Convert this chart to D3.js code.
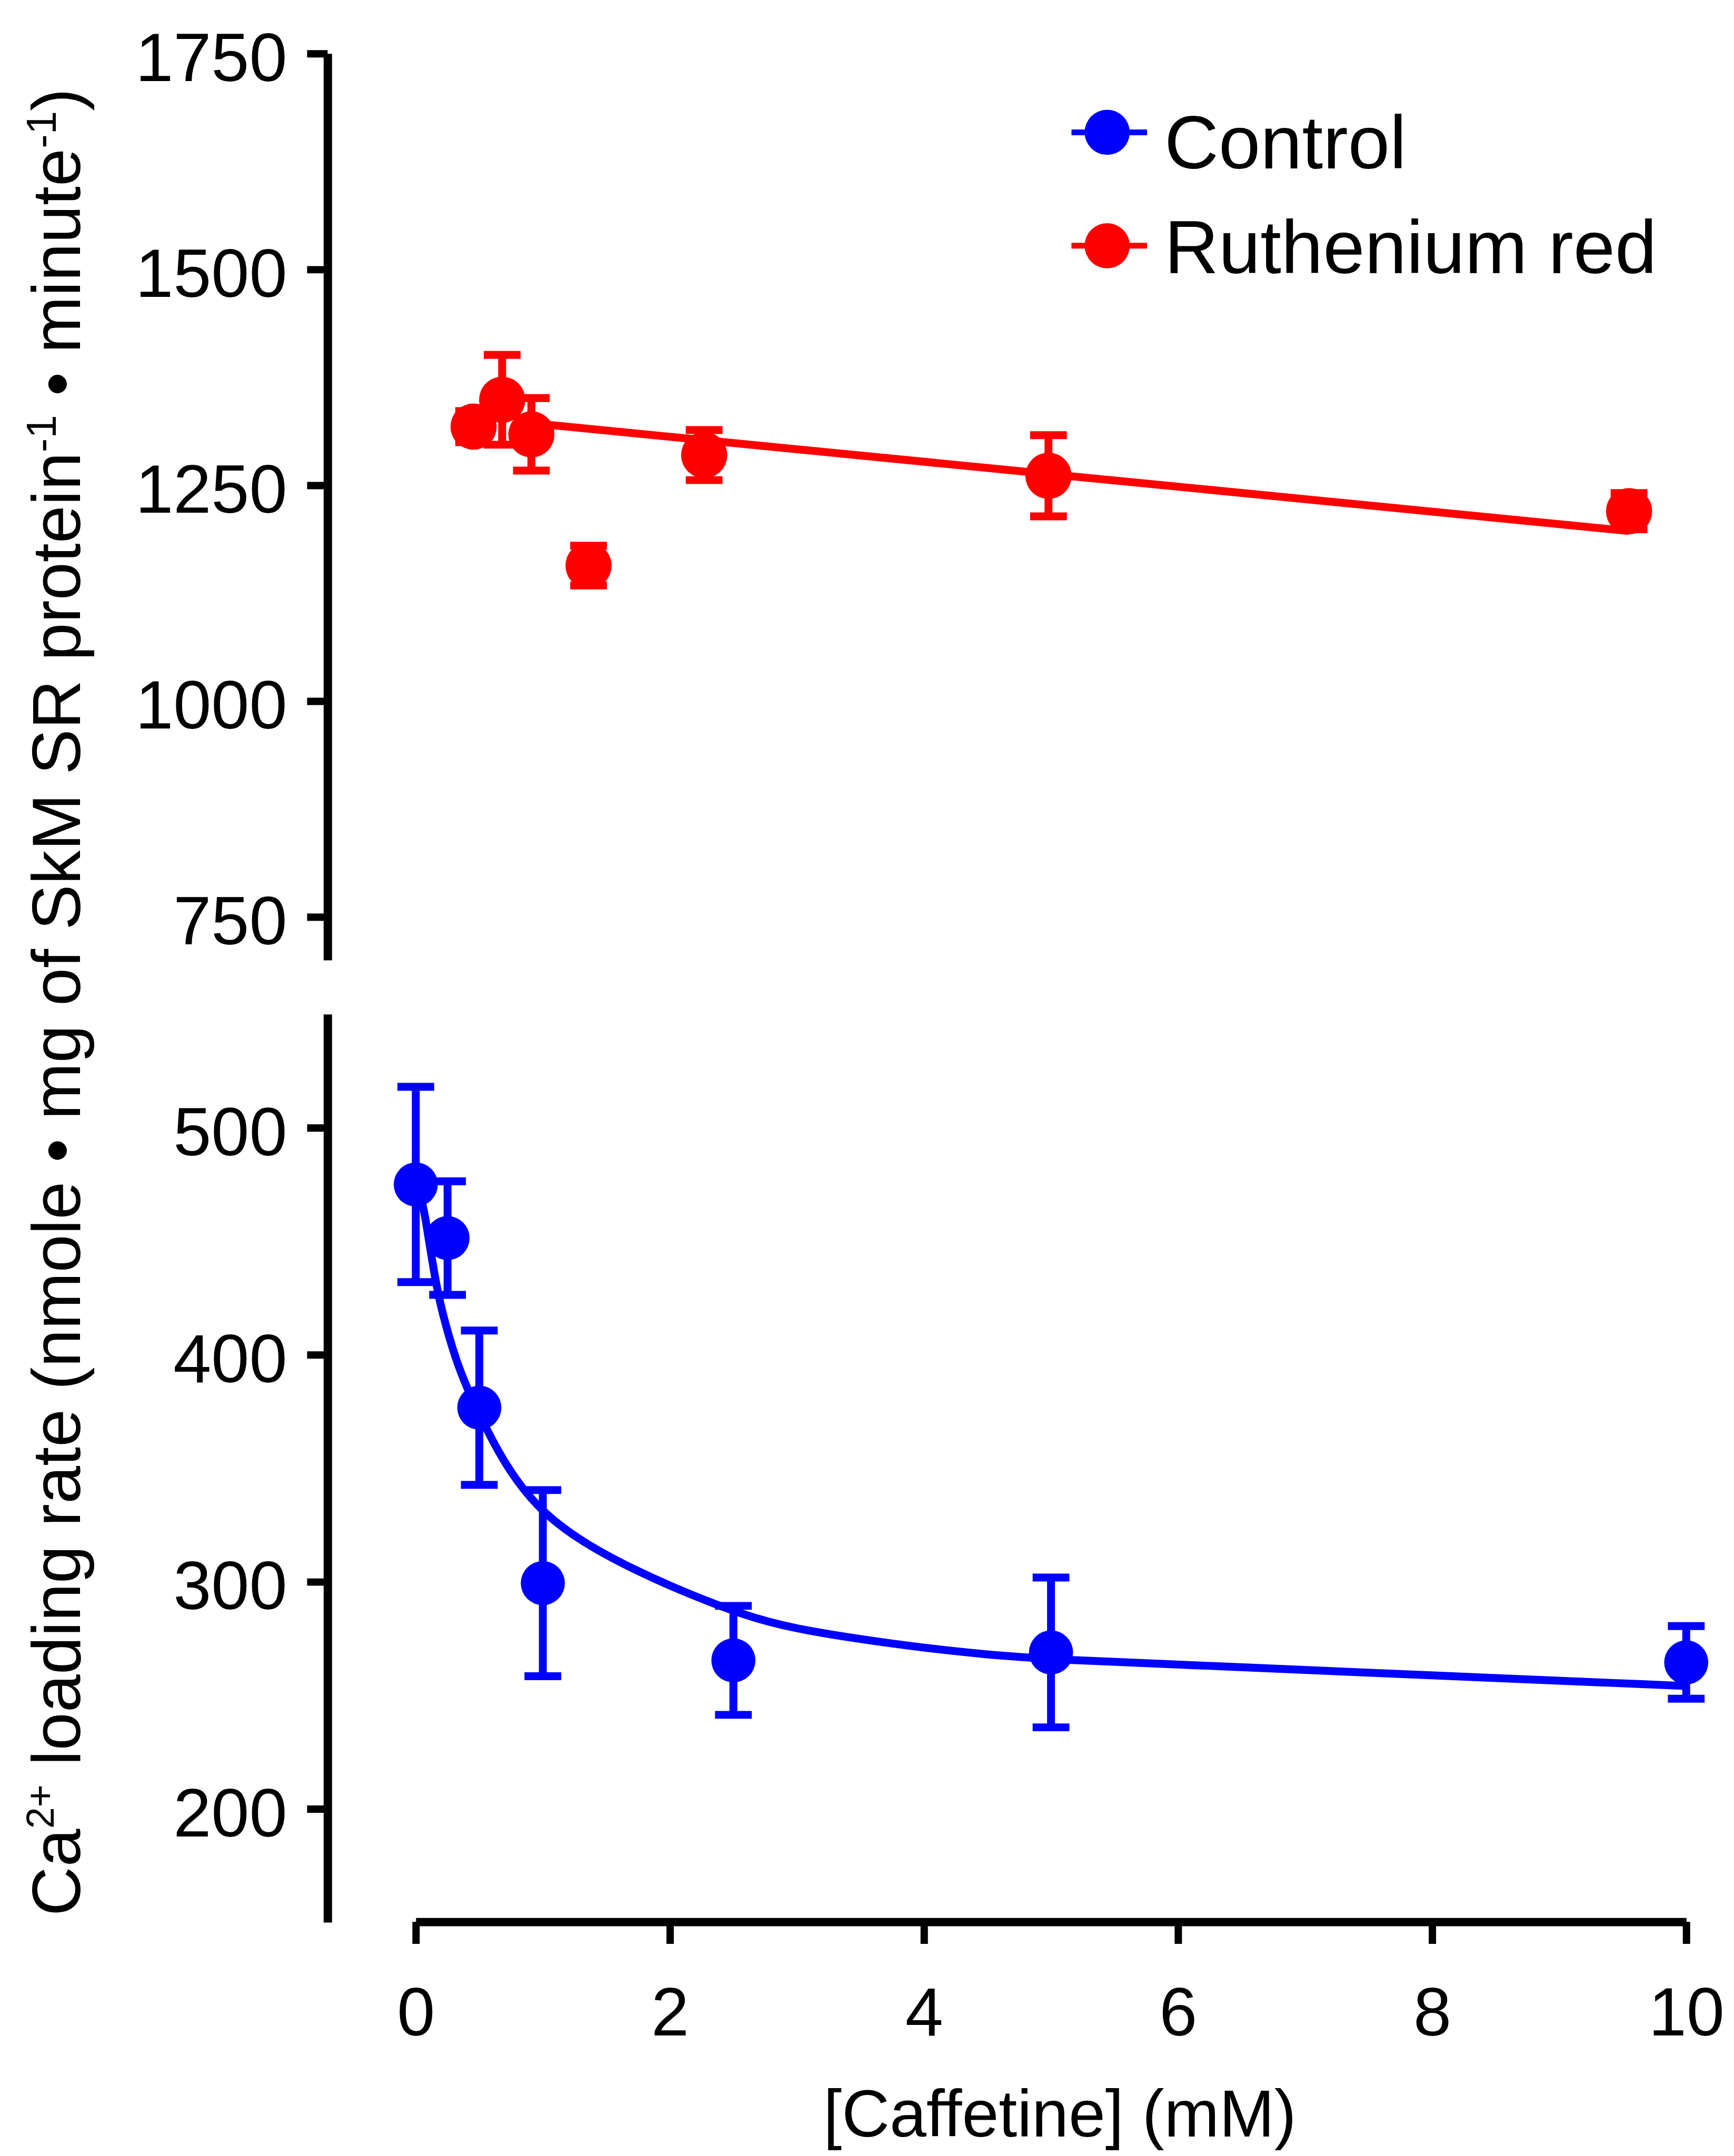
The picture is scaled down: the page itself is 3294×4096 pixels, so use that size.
<!DOCTYPE html>
<html>
<head>
<meta charset="utf-8">
<style>
  body { margin: 0; background: #fff; }
  text { font-family: "Liberation Sans", Arial, sans-serif; }
</style>
</head>
<body>
<div id="chart"></div>
<script src="https://d3js.org/d3.v7.min.js"></script>
<script>
// ---- data ----
// Ruthenium red (upper panel)
var rrX   = [0.455, 0.68, 0.91, 1.36, 2.27, 4.98, 9.55];
var rrY   = [1318, 1349, 1309, 1157, 1285, 1261, 1220];
var rrErr = [18, 52, 42, 23, 29, 47, 21];
var rrFitX = [0.91, 9.55];
var rrFitY = [1322, 1197];

// Control (lower panel)
var ctlX   = [0, 0.25, 0.5, 1.0, 2.5, 5.0, 10.0];
var ctlY   = [475, 451.4, 376.7, 299.4, 265.4, 268.9, 264.5];
var ctlErr = [43, 25, 34, 41, 24, 33, 16];
// fitted curve
var ctlFitX = [0, 0.054, 0.074, 0.124, 0.178, 0.252, 0.331, 0.421, 0.558, 0.727, 0.971, 1.306, 1.727, 2.149, 2.57, 2.942, 3.682, 4.471, 5.157, 6.211, 7.897, 10.0];
var ctlFitY = [478, 466.2, 460.9, 443.1, 425.5, 409.6, 395.4, 383.0, 367.0, 349.4, 331.6, 317.5, 305.0, 294.6, 285.6, 279.6, 273.1, 267.8, 265.4, 263.1, 259.0, 254.1];

var xTicks = [0, 2, 4, 6, 8, 10];
var topTicks = [750, 1000, 1250, 1500, 1750];
var botTicks = [200, 300, 400, 500];
var seriesNames = ["Control", "Ruthenium red"];
var seriesColors = ["#0000ff", "#ff0000"];

// ---- layout (reference pixels, scaled by the viewBox) ----
var W = 3303, H = 4107;
var svg = d3.select("#chart").append("svg")
  .attr("width", 3294).attr("height", 4096)
  .attr("viewBox", "0 0 " + W + " " + H);

var x = d3.scaleLinear().domain([0, 10]).range([792, 3212]);
var yTop = d3.scaleLinear().domain([700, 1750]).range([1829, 102]);
var yBot = d3.scaleLinear().domain([150, 550]).range([3662, 1932]);
var axisX = 624;

function yAxis(scale, ticks) {
  var g = svg.append("g")
    .attr("transform", "translate(" + axisX + ",0)")
    .call(d3.axisLeft(scale).tickValues(ticks).tickFormat(d3.format("d"))
      .tickSizeInner(39).tickSizeOuter(0).tickPadding(38));
  g.attr("font-size", 130).attr("font-family", null);
  g.select(".domain").attr("stroke", "#000").attr("stroke-width", 16);
  g.selectAll(".tick line").attr("stroke", "#000").attr("stroke-width", 14);
  g.selectAll(".tick text").attr("fill", "#000").attr("dy", "0.4em");
}
yAxis(yTop, topTicks);
yAxis(yBot, botTicks);

var gx = svg.append("g")
  .attr("transform", "translate(0,3661)")
  .call(d3.axisBottom(x).tickValues(xTicks).tickFormat(d3.format("d"))
    .tickSizeInner(42).tickSizeOuter(0));
gx.attr("font-size", 130).attr("font-family", null);
gx.select(".domain").attr("stroke", "#000").attr("stroke-width", 16);
gx.selectAll(".tick line").attr("stroke", "#000").attr("stroke-width", 14);
gx.selectAll(".tick text").attr("fill", "#000").attr("y", 216).attr("dy", 0);

// axis titles
svg.append("text")
  .attr("x", 2019).attr("y", 4070)
  .attr("text-anchor", "middle")
  .attr("font-size", 126)
  .text("[Caffetine] (mM)");

var yl = svg.append("text")
  .attr("transform", "translate(152,1909) rotate(-90)")
  .attr("text-anchor", "middle")
  .attr("font-size", 130);
yl.append("tspan").text("Ca");
yl.append("tspan").attr("font-size", 74).attr("dy", -50).text("2+");
yl.append("tspan").attr("dy", 50).text(" loading rate (nmole \u2022 mg of SkM SR protein");
yl.append("tspan").attr("font-size", 80).attr("dy", -46).text("-1");
yl.append("tspan").attr("dy", 46).text(" \u2022 minute");
yl.append("tspan").attr("font-size", 80).attr("dy", -46).text("-1");
yl.append("tspan").attr("dy", 46).text(")");

// ---- series ----
function series(xs, ys, errs, fitX, fitY, yScale, color, r, curve) {
  var g = svg.append("g");
  var fit = fitX.map(function (d, i) { return [d, fitY[i]]; });
  g.append("path")
    .attr("d", d3.line().x(function (d) { return x(d[0]); }).y(function (d) { return yScale(d[1]); }).curve(curve)(fit))
    .attr("fill", "none").attr("stroke", color).attr("stroke-width", 15);

  var pts = xs.map(function (d, i) { return { x: d, y: ys[i], e: errs[i] }; });
  var eb = g.selectAll(".eb").data(pts).enter().append("g")
    .attr("stroke", color).attr("stroke-width", 15);
  eb.append("line")
    .attr("x1", function (d) { return x(d.x); }).attr("x2", function (d) { return x(d.x); })
    .attr("y1", function (d) { return yScale(d.y - d.e); }).attr("y2", function (d) { return yScale(d.y + d.e); });
  [-1, 1].forEach(function (s) {
    eb.append("line")
      .attr("x1", function (d) { return x(d.x) - 35; }).attr("x2", function (d) { return x(d.x) + 35; })
      .attr("y1", function (d) { return yScale(d.y + s * d.e); }).attr("y2", function (d) { return yScale(d.y + s * d.e); });
  });
  g.selectAll("circle").data(pts).enter().append("circle")
    .attr("cx", function (d) { return x(d.x); })
    .attr("cy", function (d) { return yScale(d.y); })
    .attr("r", r).attr("fill", color);
}
series(rrX, rrY, rrErr, rrFitX, rrFitY, yTop, seriesColors[1], 44, d3.curveLinear);
series(ctlX, ctlY, ctlErr, ctlFitX, ctlFitY, yBot, seriesColors[0], 42, d3.curveBasis);

// ---- legend ----
var legY = [252, 468], legBase = [321, 520];
seriesNames.forEach(function (name, i) {
  svg.append("line")
    .attr("x1", 2041).attr("x2", 2185).attr("y1", legY[i]).attr("y2", legY[i])
    .attr("stroke", seriesColors[i]).attr("stroke-width", 11);
  svg.append("circle")
    .attr("cx", 2109).attr("cy", legY[i]).attr("r", 43).attr("fill", seriesColors[i]);
  svg.append("text")
    .attr("x", 2218).attr("y", legBase[i])
    .attr("font-size", 143)
    .text(name);
});
</script>
</body>
</html>
